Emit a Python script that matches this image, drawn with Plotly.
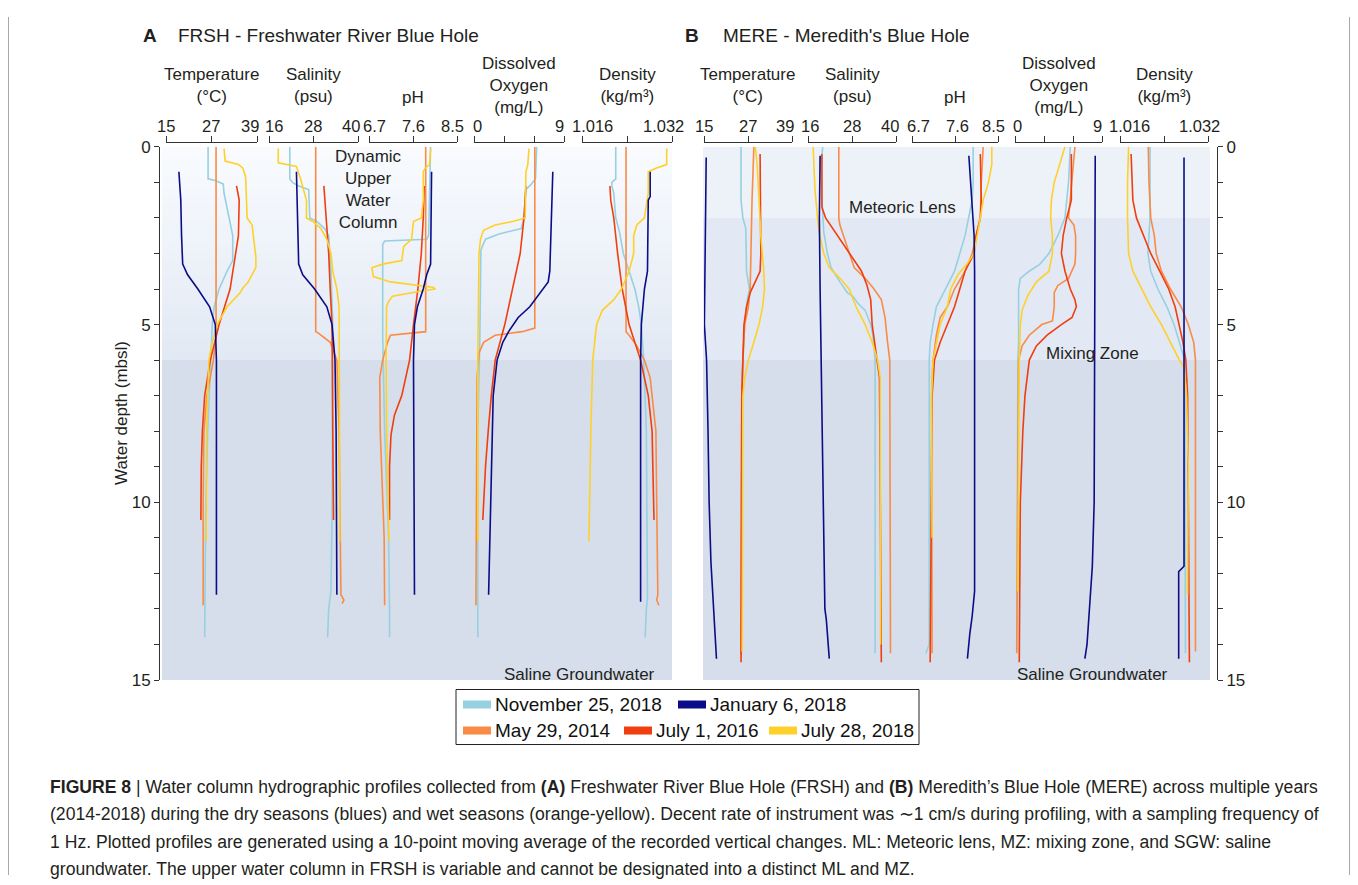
import plotly.graph_objects as go

# Positions below are given in pixels of the 1358x885 target picture.
# The page body adds an 8 px margin; the photographed page is also squeezed
# vertically (picture_y = OY + SY * page_y), so positions are mapped back here.
OFF = 8
SY, OY = 0.978, 8.9
W, H = 1342, 877
FONT = "Liberation Sans, Arial, Helvetica, sans-serif"
CAPFONT = "Liberation Sans, Arial, sans-serif"
INK = "#231f20"

# ---------------- data: [depth (m), value] ----------------
# Panel A - FRSH
A_TEMP_NOV = [[0, 26.1], [0.9, 26.1], [0.95, 28.0], [1.05, 30.1], [1.3, 30.3], [2.0, 31.6], [2.5, 32.6], [3.2, 32.6], [3.5, 31.1], [4.0, 29.0], [4.5, 27.7], [5.0, 27.2], [6.0, 26.8], [8.0, 26.0], [10.0, 25.5], [12.8, 25.2], [13.8, 25.2]]
A_TEMP_JAN = [[0.7, 18.4], [1.5, 18.9], [2.5, 19.1], [3.3, 19.4], [3.6, 20.7], [4.0, 23.4], [4.5, 26.5], [4.8, 27.5], [5.0, 28.0], [6.0, 28.3], [12.6, 28.3]]
A_TEMP_MAY14 = [[0, 28.2], [5.3, 28.2], [6.0, 27.5], [7.0, 25.8], [8.0, 25.0], [10.0, 24.8], [12.9, 24.8]]
A_TEMP_JUL16 = [[1.1, 33.6], [1.5, 34.3], [2.5, 34.1], [3.0, 33.3], [4.0, 31.9], [5.0, 29.0], [6.0, 26.7], [7.0, 25.2], [8.0, 24.6], [9.0, 24.3], [10.5, 24.2]]
A_TEMP_JUL18 = [[0.05, 30.3], [0.4, 30.6], [0.5, 34.1], [0.6, 35.3], [0.85, 36.0], [2.0, 36.4], [2.2, 37.7], [3.1, 38.7], [3.4, 38.7], [3.8, 36.7], [4.0, 35.1], [4.1, 34.6], [4.5, 31.1], [5.0, 28.5], [5.5, 27.2], [6.0, 26.3], [8.0, 25.7], [11.1, 25.6]]

A_SAL_NOV = [[0, 21.6], [0.9, 21.6], [1.0, 22.3], [1.1, 24.0], [1.2, 26.7], [2.0, 27.0], [2.1, 28.9], [2.3, 31.0], [2.5, 32.1], [3.5, 32.7], [5.0, 33.2], [8.0, 33.2], [10.5, 33.0], [12.5, 32.7], [13.0, 32.1], [13.8, 31.8]]
A_SAL_JAN = [[0.7, 23.4], [3.3, 24.0], [3.6, 25.1], [4.0, 28.3], [4.5, 31.6], [5.0, 33.0], [6.0, 33.8], [8.0, 34.1], [12.6, 34.3]]
A_SAL_MAY14 = [[0, 28.6], [5.2, 28.6], [5.25, 29.4], [5.5, 32.5], [6.0, 34.3], [8.0, 34.9], [12.6, 35.4], [12.75, 36.2], [12.85, 35.7]]
A_SAL_JUL16 = [[1.1, 30.8], [2.0, 31.4], [3.0, 32.1], [4.0, 32.5], [5.0, 33.0], [8.0, 33.2], [10.5, 33.4]]
A_SAL_JUL18 = [[0.05, 18.5], [0.45, 18.5], [0.55, 23.4], [0.9, 24.5], [1.5, 26.1], [2.0, 26.1], [2.1, 27.8], [2.3, 30.0], [2.6, 31.6], [3.0, 32.7], [3.5, 33.2], [4.0, 34.3], [4.5, 34.9], [5.5, 34.9], [6.0, 35.1], [11.1, 35.1]]

A_PH_NOV = [[0, 7.96], [2.5, 7.92], [2.6, 7.88], [2.65, 7.02], [2.75, 6.98], [5.3, 6.98], [8.0, 7.02], [11.0, 7.10], [13.0, 7.12], [13.8, 7.12]]
A_PH_JAN = [[0.7, 7.98], [3.3, 7.96], [3.6, 7.88], [4.0, 7.81], [4.5, 7.69], [5.0, 7.63], [6.0, 7.61], [12.6, 7.63]]
A_PH_MAY14 = [[0, 7.86], [5.2, 7.86], [5.3, 7.14], [5.5, 7.08], [6.0, 6.98], [6.5, 6.92], [8.0, 6.93], [9.5, 6.97], [11.0, 7.01], [12.9, 7.02]]
A_PH_JUL16 = [[1.1, 7.83], [2.0, 7.81], [3.0, 7.77], [4.0, 7.70], [5.0, 7.61], [6.0, 7.53], [7.0, 7.37], [7.55, 7.22], [8.1, 7.15], [9.0, 7.12], [10.5, 7.12]]
A_PH_JUL18 = [[0.05, 7.96], [0.5, 7.94], [0.6, 7.85], [0.7, 7.81], [1.5, 7.81], [2.0, 7.77], [2.1, 7.61], [2.6, 7.57], [2.8, 7.41], [3.2, 7.37], [3.3, 6.98], [3.4, 6.76], [3.65, 6.79], [3.8, 7.14], [3.95, 8.0], [4.0, 8.06], [4.05, 7.81], [4.2, 7.18], [4.35, 7.10], [4.5, 7.06], [6.0, 7.05], [8.0, 7.06], [11.1, 7.11]]

A_DO_NOV = [[0, 6.27], [0.9, 6.15], [1.1, 5.58], [1.2, 5.19], [2.0, 5.0], [2.3, 4.73], [2.45, 2.5], [2.6, 1.15], [2.9, 0.69], [5.5, 0.58], [8.0, 0.38], [13.8, 0.38]]
A_DO_JAN = [[0.7, 7.88], [3.5, 7.58], [3.8, 7.42], [4.0, 6.92], [4.5, 5.58], [4.8, 4.42], [5.2, 3.46], [5.5, 2.88], [6.0, 2.31], [7.0, 1.92], [9.0, 1.73], [12.6, 1.46]]
A_DO_MAY14 = [[0, 6.08], [5.1, 6.08], [5.2, 4.81], [5.3, 2.12], [5.5, 0.96], [5.8, 0.5], [6.5, 0.31], [12.9, 0.19]]
A_DO_JUL16 = [[1.1, 5.19], [2.0, 5.0], [3.0, 4.62], [4.0, 3.85], [5.0, 3.08], [6.0, 2.12], [7.0, 1.73], [8.0, 1.42], [9.0, 1.15], [10.5, 0.88]]
A_DO_JUL18 = [[0.05, 5.5], [0.5, 5.38], [0.7, 5.19], [2.0, 5.12], [2.1, 3.85], [2.2, 2.12], [2.35, 0.96], [2.6, 0.65], [3.0, 0.5], [6.0, 0.38], [11.1, 0.38]]

A_DENS_NOV = [[0, 1.0220], [0.9, 1.0220], [1.0, 1.02131], [1.1, 1.02131], [1.3, 1.02165], [2.0, 1.0220], [2.4, 1.02267], [3.0, 1.02335], [3.5, 1.02437], [4.0, 1.0254], [4.5, 1.02608], [5.0, 1.02655], [6.0, 1.02696], [8.0, 1.02744], [12.7, 1.02764], [13.0, 1.02744], [13.8, 1.02723]]
A_DENS_JAN = [[0.7, 1.02812], [1.4, 1.02812], [1.5, 1.02778], [3.5, 1.02764], [4.0, 1.0271], [5.0, 1.02655], [6.0, 1.02642], [12.8, 1.02642]]
A_DENS_MAY14 = [[0, 1.02383], [5.2, 1.02383], [5.3, 1.02437], [5.6, 1.02574], [6.0, 1.0271], [6.5, 1.02812], [7.5, 1.0288], [8.0, 1.02914], [10.0, 1.02928], [12.6, 1.02948], [12.75, 1.02928], [12.9, 1.02968]]
A_DENS_JUL16 = [[1.1, 1.02097], [1.5, 1.02111], [2.0, 1.02165], [3.0, 1.02233], [4.0, 1.02315], [5.0, 1.02437], [6.0, 1.02642], [7.0, 1.02778], [8.0, 1.02846], [9.5, 1.02866], [10.5, 1.0288]]
A_DENS_JUL18 = [[0.05, 1.03105], [0.5, 1.03105], [0.6, 1.02914], [0.7, 1.02778], [1.3, 1.02778], [1.6, 1.02744], [2.0, 1.0271], [2.2, 1.02574], [2.5, 1.02519], [3.0, 1.02519], [3.5, 1.02437], [4.0, 1.02301], [4.3, 1.02165], [4.6, 1.01961], [5.0, 1.01859], [6.0, 1.01791], [8.0, 1.01757], [11.1, 1.01723]]

# Panel B - MERE
B_TEMP_NOV = [[0, 25.1], [1.5, 25.1], [2.0, 25.6], [2.3, 26.4], [3.5, 26.6], [3.8, 27.1], [4.0, 27.4], [4.3, 26.8], [5.0, 26.1], [6.0, 25.6], [7.0, 25.3], [14.2, 25.1]]
B_TEMP_JAN = [[0.3, 15.6], [2.0, 15.4], [4.0, 15.15], [5.0, 15.1], [5.5, 15.4], [6.0, 15.7], [8.0, 16.1], [10.0, 16.4], [11.7, 16.9], [13.2, 17.8], [14.4, 18.4]]
B_TEMP_MAY14 = [[0, 28.6], [0.5, 28.4], [1.5, 28.1], [3.0, 27.8], [4.0, 27.6], [4.5, 27.1], [5.0, 26.1], [6.0, 25.6], [7.0, 25.3], [14.3, 25.1]]
B_TEMP_JUL16 = [[0.2, 30.3], [3.0, 30.5], [3.5, 30.3], [3.8, 29.0], [4.1, 27.6], [4.5, 26.6], [5.0, 25.9], [6.0, 25.6], [7.0, 25.3], [14.5, 25.1]]
B_TEMP_JUL18 = [[0, 29.0], [0.5, 29.5], [1.5, 30.0], [2.5, 30.5], [3.5, 31.3], [4.0, 31.5], [4.5, 31.0], [5.0, 30.0], [5.5, 28.6], [6.0, 27.1], [6.5, 26.1], [7.0, 25.6], [14.2, 25.4]]

B_SAL_NOV = [[0, 20.0], [0.5, 19.6], [1.5, 19.8], [2.4, 20.3], [3.0, 21.3], [3.4, 22.3], [3.8, 24.7], [4.1, 26.7], [4.2, 28.2], [4.4, 29.6], [4.6, 31.6], [5.0, 33.1], [5.3, 33.7], [6.0, 34.3], [14.25, 34.3]]
B_SAL_JAN = [[0.25, 19.3], [2.0, 19.1], [4.0, 19.3], [6.0, 19.6], [8.0, 19.8], [11.0, 20.3], [13.0, 20.6], [13.3, 21.0], [14.4, 21.8]]
B_SAL_MAY14 = [[0, 24.4], [2.0, 24.4], [2.2, 24.7], [2.5, 25.7], [3.0, 27.2], [3.4, 28.6], [3.7, 31.6], [4.0, 34.0], [4.3, 36.0], [4.8, 37.0], [5.5, 37.7], [6.0, 38.3], [14.25, 38.5]]
B_SAL_JUL16 = [[0.2, 19.8], [1.7, 19.8], [2.0, 20.8], [2.3, 22.8], [2.6, 24.7], [2.9, 26.7], [3.2, 28.6], [3.5, 30.6], [3.9, 32.1], [4.3, 33.1], [5.0, 33.5], [5.8, 34.5], [6.5, 35.5], [14.5, 36.0]]
B_SAL_JUL18 = [[0, 17.4], [1.2, 17.9], [2.0, 18.6], [2.4, 19.0], [3.0, 20.3], [3.4, 21.8], [3.7, 24.7], [4.0, 27.2], [4.5, 29.1], [5.0, 31.6], [5.5, 33.5], [6.0, 35.0], [6.5, 35.7], [14.0, 35.8]]

B_PH_NOV = [[0, 7.98], [1.0, 7.98], [1.5, 7.96], [2.0, 7.89], [2.5, 7.81], [3.0, 7.70], [3.5, 7.59], [3.9, 7.44], [4.3, 7.29], [4.5, 7.21], [5.0, 7.14], [5.5, 7.08], [6.0, 7.06], [14.0, 7.06], [14.25, 6.99]]
B_PH_JAN = [[0.25, 7.89], [1.5, 7.95], [2.5, 8.0], [3.5, 8.01], [12.5, 8.01], [13.2, 7.96], [13.7, 7.91], [14.4, 7.86]]
B_PH_MAY14 = [[0, 8.19], [1.0, 8.15], [2.0, 8.13], [2.5, 8.04], [3.0, 7.96], [3.5, 7.81], [4.0, 7.59], [4.5, 7.44], [4.8, 7.29], [5.3, 7.21], [6.0, 7.14], [7.0, 7.11], [14.25, 7.12]]
B_PH_JUL16 = [[0.2, 8.13], [1.5, 8.15], [2.0, 8.13], [2.5, 8.04], [3.0, 8.0], [3.5, 7.81], [4.0, 7.70], [4.5, 7.59], [5.0, 7.44], [5.5, 7.29], [6.0, 7.17], [7.0, 7.12], [14.5, 7.08]]
B_PH_JUL18 = [[0, 8.37], [0.5, 8.37], [1.0, 8.30], [1.5, 8.19], [2.0, 8.13], [2.5, 8.07], [3.0, 8.0], [3.3, 7.85], [3.6, 7.66], [4.0, 7.51], [4.5, 7.44], [5.0, 7.29], [5.5, 7.21], [6.0, 7.14], [7.0, 7.11], [11.0, 7.12]]

B_DO_NOV = [[0, 5.72], [1.0, 5.54], [1.5, 5.35], [2.0, 5.17], [2.5, 4.43], [3.0, 3.51], [3.3, 2.58], [3.5, 1.48], [3.7, 0.55], [4.0, 0.37], [5.5, 0.37], [6.0, 0.30], [14.2, 0.18]]
B_DO_JAN = [[0.25, 8.30], [10.0, 8.19], [11.8, 8.0], [13.2, 7.68], [14.0, 7.45], [14.4, 7.23]]
B_DO_MAY14 = [[0, 6.2], [1.0, 5.9], [1.5, 5.72], [2.0, 5.54], [2.2, 6.09], [2.5, 6.27], [3.0, 6.27], [3.3, 6.2], [3.7, 5.54], [3.9, 4.43], [4.1, 4.06], [4.5, 4.06], [4.9, 3.87], [5.0, 2.77], [5.3, 1.48], [5.6, 0.74], [6.0, 0.37], [14.25, 0.18]]
B_DO_JUL16 = [[0.2, 5.83], [1.5, 5.83], [2.0, 5.35], [2.5, 4.98], [3.0, 4.80], [3.5, 5.17], [4.0, 5.72], [4.3, 6.2], [4.5, 6.35], [4.8, 5.9], [5.0, 4.8], [5.3, 3.32], [5.6, 2.21], [6.0, 1.48], [7.0, 1.03], [8.0, 0.81], [10.0, 0.55], [14.5, 0.44]]
B_DO_JUL18 = [[0, 5.17], [0.5, 4.61], [1.0, 4.06], [1.5, 3.76], [2.0, 3.69], [2.5, 3.87], [3.0, 3.87], [3.5, 3.51], [3.8, 2.21], [4.2, 1.29], [4.6, 0.74], [5.0, 0.55], [6.0, 0.44], [12.5, 0.30]]

B_DENS_NOV = [[0, 1.02146], [2.0, 1.02146], [2.5, 1.02127], [3.0, 1.02107], [3.5, 1.02159], [4.0, 1.02289], [4.5, 1.02452], [5.0, 1.02582], [5.5, 1.0268], [6.0, 1.02777], [14.25, 1.0279]]
B_DENS_JAN = [[0.3, 1.02764], [11.8, 1.02764], [11.95, 1.02667], [14.4, 1.02667]]
B_DENS_MAY14 = [[0, 1.02114], [1.0, 1.02127], [2.0, 1.02159], [2.5, 1.02224], [3.0, 1.02257], [3.5, 1.02354], [4.0, 1.02517], [4.5, 1.02712], [5.0, 1.02842], [5.5, 1.0294], [6.0, 1.02972], [14.2, 1.02972]]
B_DENS_JUL16 = [[0.2, 1.01802], [1.0, 1.01821], [1.5, 1.01834], [2.0, 1.01899], [2.5, 1.02029], [3.0, 1.02159], [3.5, 1.02322], [4.0, 1.02485], [4.5, 1.02602], [5.0, 1.0268], [5.5, 1.02745], [6.0, 1.02797], [7.0, 1.02829], [14.5, 1.02862]]
B_DENS_JUL18 = [[0, 1.01756], [1.0, 1.01737], [2.0, 1.01737], [3.0, 1.01756], [3.5, 1.01834], [4.0, 1.01997], [4.5, 1.02159], [5.0, 1.02354], [5.5, 1.02517], [6.0, 1.0268], [6.2, 1.02764], [7.0, 1.0281], [9.0, 1.02842], [12.6, 1.02829]]

SERIES = ["nov", "jan", "may14", "jul16", "jul18"]
SERIES_LABELS = ["November 25, 2018", "January 6, 2018", "May 29, 2014", "July 1, 2016", "July 28, 2018"]
SERIES_COLORS = ["#97d0e0", "#0b0d88", "#fa8b45", "#f03e0e", "#fed12a"]

VARIABLES = ["temp", "sal", "ph", "do", "dens"]
VAR_TITLES = ["Temperature<br>(°C)", "Salinity<br>(psu)", "pH", "Dissolved<br>Oxygen<br>(mg/L)", "Density<br>(kg/m³)"]
VAR_RANGES = [[15, 39], [16, 40], [6.7, 8.5], [0, 9], [1.016, 1.032]]
VAR_TICKVALS = [[15, 27, 39], [16, 28, 40], [6.7, 7.6, 8.5], [0, 3, 6, 9], [1.016, 1.024, 1.032]]
VAR_TICKTEXT = [["15", "27", "39"], ["16", "28", "40"], ["6.7", "7.6", "8.5"], ["0", "", "", "9"], ["1.016", "", "1.032"]]

DEPTH_TICKS = list(range(16))
DEPTH_LABELS = [str(d) if d % 5 == 0 else "" for d in DEPTH_TICKS]

PANELS = ["A", "B"]
PANEL_TITLES = ["FRSH - Freshwater River Blue Hole", "MERE - Meredith's Blue Hole"]

PROFILES = {
    ("A", "temp"): [A_TEMP_NOV, A_TEMP_JAN, A_TEMP_MAY14, A_TEMP_JUL16, A_TEMP_JUL18],
    ("A", "sal"): [A_SAL_NOV, A_SAL_JAN, A_SAL_MAY14, A_SAL_JUL16, A_SAL_JUL18],
    ("A", "ph"): [A_PH_NOV, A_PH_JAN, A_PH_MAY14, A_PH_JUL16, A_PH_JUL18],
    ("A", "do"): [A_DO_NOV, A_DO_JAN, A_DO_MAY14, A_DO_JUL16, A_DO_JUL18],
    ("A", "dens"): [A_DENS_NOV, A_DENS_JAN, A_DENS_MAY14, A_DENS_JUL16, A_DENS_JUL18],
    ("B", "temp"): [B_TEMP_NOV, B_TEMP_JAN, B_TEMP_MAY14, B_TEMP_JUL16, B_TEMP_JUL18],
    ("B", "sal"): [B_SAL_NOV, B_SAL_JAN, B_SAL_MAY14, B_SAL_JUL16, B_SAL_JUL18],
    ("B", "ph"): [B_PH_NOV, B_PH_JAN, B_PH_MAY14, B_PH_JUL16, B_PH_JUL18],
    ("B", "do"): [B_DO_NOV, B_DO_JAN, B_DO_MAY14, B_DO_JUL16, B_DO_JUL18],
    ("B", "dens"): [B_DENS_NOV, B_DENS_JAN, B_DENS_MAY14, B_DENS_JUL16, B_DENS_JUL18],
}

# ---------------- layout geometry (target-picture pixels) ----------------
COL_PX = {
    "A": [(166, 257), (269, 358), (369, 457), (474, 564), (582, 672)],
    "B": [(704, 792), (808, 896), (912, 998), (1015, 1102), (1120, 1208)],
}
TICK_SHIFT = {
    "A": [[0, -1, -7], [5, -1, -7], [5, 0, -5], [3, 0, 0, -5], [10, 0, -9]],
    "B": [[0, 0, -7], [2, 0, -6], [6, 2, -5], [2, 0, 0, -5], [9, 0, -9]],
}
SHADE_PX = {"A": (162, 672), "B": (703, 1210)}
Y_TOP_PX, Y_BOT_PX = 146.5, 679.5
XLINE_PX = 141.5


def px(x):
    return (x - OFF) / W


def py(y):
    page = (y - OY) / SY
    return 1 - (page - OFF) / H


fig = go.Figure()
layout = dict(
    width=W, height=H, margin=dict(l=0, r=0, t=0, b=0),
    paper_bgcolor="white", plot_bgcolor="rgba(0,0,0,0)",
    showlegend=False, hovermode=False,
    font=dict(family=FONT, color=INK, size=16),
)
annotations = []

draw_order = [0, 2, 3, 4, 1]
for pi, panel in enumerate(PANELS):
    yname = "y" if pi == 0 else "y2"
    for vi, var in enumerate(VARIABLES):
        k = pi * 5 + vi + 1
        xname = "x" if k == 1 else f"x{k}"
        curves = PROFILES[(panel, var)]
        for si in draw_order:
            pts = curves[si]
            fig.add_trace(go.Scatter(
                x=[p[1] for p in pts], y=[p[0] for p in pts], mode="lines",
                line=dict(color=SERIES_COLORS[si], width=1.6),
                xaxis=xname, yaxis=yname, hoverinfo="skip", showlegend=False,
                name=SERIES_LABELS[si],
            ))
        x0, x1 = COL_PX[panel][vi]
        layout["xaxis" if k == 1 else f"xaxis{k}"] = dict(
            domain=[px(x0), px(x1)], range=VAR_RANGES[vi], anchor="free",
            position=py(XLINE_PX), side="top", showline=True, linecolor="#333",
            linewidth=1, ticks="outside", ticklen=6, tickwidth=1, tickcolor="#333",
            tickvals=VAR_TICKVALS[vi], ticktext=[""] * len(VAR_TICKVALS[vi]), showgrid=False,
            zeroline=False, fixedrange=True,
        )
        for tv, tt, sh in zip(VAR_TICKVALS[vi], VAR_TICKTEXT[vi], TICK_SHIFT[panel][vi]):
            if tt:
                annotations.append(dict(
                    text=tt, x=tv, xref=xname, y=py(126), yref="paper", xanchor="center",
                    yanchor="middle", xshift=sh, showarrow=False,
                    font=dict(size=16.5, color=INK, family=FONT)))

ycommon = dict(
    domain=[py(Y_BOT_PX), py(Y_TOP_PX)], range=[15, 0], anchor="free",
    showline=True, linecolor="#333", linewidth=1, ticks="outside", ticklen=5,
    tickwidth=1, tickcolor="#333", tickvals=DEPTH_TICKS, ticktext=DEPTH_LABELS,
    showgrid=False, zeroline=False, tickfont=dict(size=17, color=INK, family=FONT),
    fixedrange=True,
)
layout["yaxis"] = dict(ycommon, side="left", position=px(159))
layout["yaxis2"] = dict(ycommon, side="right", position=px(1217))

# ---------------- zone shading ----------------
shapes = []
SGW_COLOR = "rgb(214,222,235)"
top_rgb, bot_rgb = (249, 251, 254), (226, 233, 244)
n = 30
for i in range(n):
    d0 = 6.0 * i / n
    d1 = 6.0 * (i + 1) / n + 0.02
    t = (i + 0.5) / n
    c = tuple(round(top_rgb[j] + (bot_rgb[j] - top_rgb[j]) * t) for j in range(3))
    shapes.append(dict(type="rect", xref="paper", yref="y", x0=px(SHADE_PX["A"][0]), x1=px(SHADE_PX["A"][1]),
                       y0=d0, y1=d1, fillcolor=f"rgb{c}", line=dict(width=0), layer="below"))
shapes.append(dict(type="rect", xref="paper", yref="y", x0=px(SHADE_PX["A"][0]), x1=px(SHADE_PX["A"][1]),
                   y0=6, y1=15, fillcolor=SGW_COLOR, line=dict(width=0), layer="below"))
for (d0, d1, col) in [(0, 2, "rgb(237,241,248)"), (2, 6, "rgb(226,233,245)"), (6, 15, SGW_COLOR)]:
    shapes.append(dict(type="rect", xref="paper", yref="y2", x0=px(SHADE_PX["B"][0]), x1=px(SHADE_PX["B"][1]),
                       y0=d0, y1=d1, fillcolor=col, line=dict(width=0), layer="below"))

# thin side frame lines of the figure box
for xf in (8.5, 1349.5):
    shapes.append(dict(type="line", xref="paper", yref="paper", x0=px(xf), x1=px(xf), y0=0, y1=1,
                       line=dict(color="#a8a8a8", width=1)))

# ---------------- legend (drawn manually) ----------------
shapes.append(dict(type="rect", xref="paper", yref="paper", x0=px(456), x1=px(919), y0=py(744), y1=py(689),
                   line=dict(color="#222", width=1), fillcolor="white"))
LEG_POS = [(463, 704), (678, 704), (463, 730), (624, 730), (769, 730)]
for si, (lx, ly) in enumerate(LEG_POS):
    shapes.append(dict(type="rect", xref="paper", yref="paper", x0=px(lx), x1=px(lx + 28), y0=py(ly + 4),
                       y1=py(ly - 4), fillcolor=SERIES_COLORS[si], line=dict(width=0)))
    annotations.append(dict(text=SERIES_LABELS[si], x=px(lx + 30), y=py(ly), xref="paper", yref="paper",
                            xanchor="left", yanchor="middle", showarrow=False,
                            font=dict(size=19, color="#111", family=FONT)))


# ---------------- text ----------------
def ann(text, x, y, size=17, xanchor="center", yanchor="middle", **kw):
    d = dict(text=text, x=px(x), y=py(y), xref="paper", yref="paper", xanchor=xanchor,
             yanchor=yanchor, showarrow=False, font=dict(size=size, color=INK, family=kw.pop("family", FONT)))
    d.update(kw)
    annotations.append(d)


ann("<b>A</b>", 150, 35, size=19)
ann(PANEL_TITLES[0], 176, 35, size=19, xanchor="left")
ann("<b>B</b>", 692, 35, size=19)
ann(PANEL_TITLES[1], 721, 35, size=19, xanchor="left")

for panel in PANELS:
    for vi, var in enumerate(VARIABLES):
        x0, x1 = COL_PX[panel][vi]
        ycen = 97 if var == "ph" else 85
        ann(VAR_TITLES[vi], (x0 + x1) / 2, ycen, size=17)

ann("Dynamic<br>Upper<br>Water<br>Column", 368, 189, size=17)
ann("Meteoric Lens", 902, 207, size=17)
ann("Mixing Zone", 1092, 353, size=17)
ann("Saline Groundwater", 657, 674, size=17, xanchor="right")
ann("Saline Groundwater", 1170, 674, size=17, xanchor="right")
ann("Water depth (mbsl)", 122, 412.5, size=17, textangle=-90)

CAPTION = [
    "<b>FIGURE 8</b> | Water column hydrographic profiles collected from <b>(A)</b> Freshwater River Blue Hole (FRSH) and <b>(B)</b> Meredith’s Blue Hole (MERE) across multiple years",
    "(2014-2018) during the dry seasons (blues) and wet seasons (orange-yellow). Decent rate of instrument was ∼1 cm/s during profiling, with a sampling frequency of",
    "1 Hz. Plotted profiles are generated using a 10-point moving average of the recorded vertical changes. ML: Meteoric lens, MZ: mixing zone, and SGW: saline",
    "groundwater. The upper water column in FRSH is variable and cannot be designated into a distinct ML and MZ.",
]
CAPTION_Y = [786, 813.5, 841, 868]
for line, cy in zip(CAPTION, CAPTION_Y):
    ann(line, 48, cy, size=17.6, xanchor="left", family=CAPFONT)

layout["shapes"] = shapes
layout["annotations"] = annotations
fig.update_layout(**layout)
fig.write_html("out.html")
